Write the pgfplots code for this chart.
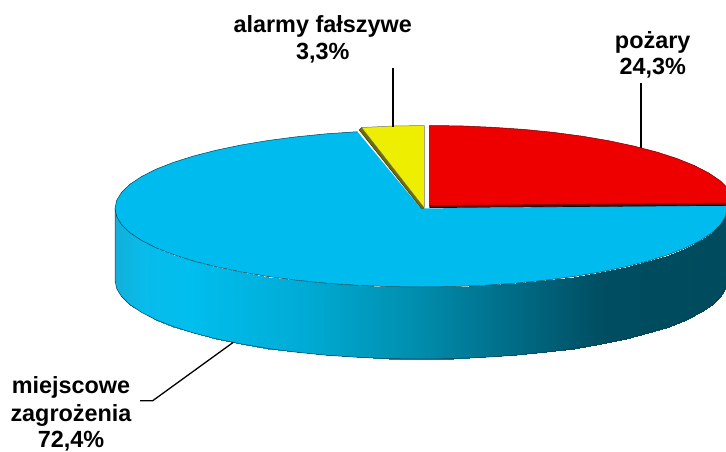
\documentclass[border=0pt]{standalone}
\usepackage{pgfplots}
\usepackage{fontspec}
\setmainfont{Liberation Sans}
\pgfplotsset{compat=1.18}
\definecolor{pieblue}{RGB}{0,188,238}
\definecolor{piered}{RGB}{238,0,0}
\definecolor{pieyellow}{RGB}{238,238,0}
\definecolor{pieolive}{RGB}{110,110,0}
\definecolor{piedarkred}{RGB}{112,0,0}
\tikzset{lab/.style={font=\fontsize{23.4}{27}\selectfont\bfseries,anchor=base,inner sep=0pt}}
\begin{document}
\begin{tikzpicture}
\useasboundingbox (0,0) rectangle (726pt,451pt);
\begin{axis}[
  at={(0,0)},anchor=south west,
  width=726pt,height=451pt,scale only axis,
  xmin=0,xmax=726,ymin=0,ymax=451,y dir=reverse,
  hide axis,clip=true,
  colormap={side}{rgb255(0pt)=(18,176,218); rgb255(30pt)=(8,188,236); rgb255(75pt)=(0,190,238);
    rgb255(185pt)=(0,172,214); rgb255(300pt)=(0,142,174); rgb255(385pt)=(0,112,140);
    rgb255(480pt)=(0,80,100); rgb255(497pt)=(0,76,96); rgb255(612pt)=(0,76,94)},
  point meta min=115,point meta max=727,
]
% side wall of the disc
\addplot[surf,shader=interp,mesh/rows=2,point meta=x] table[row sep=\\] {
x y\\
115 208.5\\116.7 216.7\\121.7 224.8\\130 232.8\\141.5 240.4\\156 247.8\\173.4 254.6\\193.6 261\\216.3 266.8\\241.1 272\\268 276.5\\296.5 280.2\\326.4 283.2\\357.4 285.3\\389 286.6\\421 287\\453 286.6\\484.6 285.3\\515.6 283.2\\545.5 280.2\\574 276.5\\600.9 272\\625.7 266.8\\648.4 261\\668.6 254.6\\686 247.8\\700.5 240.4\\712 232.8\\720.3 224.8\\725.3 216.7\\727 208.5\\
115 280.5\\116.7 288.7\\121.7 296.8\\130 304.8\\141.5 312.4\\156 319.8\\173.4 326.6\\193.6 333\\216.3 338.8\\241.1 344\\268 348.5\\296.5 352.2\\326.4 355.2\\357.4 357.3\\389 358.6\\421 359\\453 358.6\\484.6 357.3\\515.6 355.2\\545.5 352.2\\574 348.5\\600.9 344\\625.7 338.8\\648.4 333\\668.6 326.6\\686 319.8\\700.5 312.4\\712 304.8\\720.3 296.8\\725.3 288.7\\727 280.5\\
};
% outline of the wall
\addplot[draw=black!65!pieblue,line width=0.5pt] coordinates {
(115,208.5)(115,280.5)(116.7,288.7)(121.7,296.8)(130,304.8)(141.5,312.4)(156,319.8)(173.4,326.6)(193.6,333)(216.3,338.8)(241.1,344)(268,348.5)(296.5,352.2)(326.4,355.2)(357.4,357.3)(389,358.6)(421,359)(453,358.6)(484.6,357.3)(515.6,355.2)(545.5,352.2)(574,348.5)(600.9,344)(625.7,338.8)(648.4,333)(668.6,326.6)(686,319.8)(700.5,312.4)(712,304.8)(720.3,296.8)(725.3,288.7)(727,280.5)};
% blue top face
\addplot[fill=pieblue,draw=none] coordinates {
(421,208.5)(357.4,131.7)(326.4,133.8)(296.5,136.8)(268,140.5)(241.1,145)(216.3,150.2)(193.6,156)(173.4,162.4)(156,169.2)(141.5,176.6)(130,184.2)(121.7,192.2)(116.7,200.3)(115,208.5)(116.7,216.7)(121.7,224.8)(130,232.8)(141.5,240.4)(156,247.8)(173.4,254.6)(193.6,261)(216.3,266.8)(241.1,272)(268,276.5)(296.5,280.2)(326.4,283.2)(357.4,285.3)(389,286.6)(421,287)(453,286.6)(484.6,285.3)(515.6,283.2)(545.5,280.2)(574,276.5)(600.9,272)(625.7,266.8)(648.4,261)(668.6,254.6)(686,247.8)(700.5,240.4)(712,232.8)(720.3,224.8)(725.3,216.7)(727,208.5)(727,205)} --cycle;
\addplot[draw=black!65!pieblue,line width=0.5pt] coordinates {
(357.4,131.7)(326.4,133.8)(296.5,136.8)(268,140.5)(241.1,145)(216.3,150.2)(193.6,156)(173.4,162.4)(156,169.2)(141.5,176.6)(130,184.2)(121.7,192.2)(116.7,200.3)(115,208.5)(116.7,216.7)(121.7,224.8)(130,232.8)(141.5,240.4)(156,247.8)(173.4,254.6)(193.6,261)(216.3,266.8)(241.1,272)(268,276.5)(296.5,280.2)(326.4,283.2)(357.4,285.3)(389,286.6)(421,287)(453,286.6)(484.6,285.3)(515.6,283.2)(545.5,280.2)(574,276.5)(600.9,272)(625.7,266.8)(648.4,261)(668.6,254.6)(686,247.8)(700.5,240.4)(712,232.8)(720.3,224.8)(725.3,216.7)(727,208.5)};
% yellow wedge
\addplot[fill=pieolive,draw=black!60!pieolive,line width=0.4pt] coordinates {(359.2,130)(361.5,127.5)(424,207.5)(424,208.5)(421.5,208.5)} --cycle;
\addplot[fill=pieyellow,draw=black!55,line width=0.5pt] coordinates {(361.5,127.5)(393,126)(424.3,125.5)(424.3,207)(423.5,207)} --cycle;
% red wedge
\addplot[fill=piedarkred,draw=none] coordinates {(429.3,205)(735,202.5)(735,205.3)(429.3,207.6)} --cycle;
\addplot[draw=black,line width=0.7pt] coordinates {(429.3,207.6)(735,205.3)};
\addplot[fill=piered,draw=black!55!piered,line width=0.5pt] coordinates {
(429.3,205.5)(429.3,125.5)(461.3,125.9)(492.9,127.3)(523.9,129.4)(553.8,132.4)(582.3,136.2)(609.2,140.8)(634,146.1)(656.7,152)(676.9,158.5)(694.3,165.5)(708.8,173)(720.3,180.8)(728.6,188.9)(733.6,197.1)(735,203)} --cycle;
% leader lines
\addplot[draw=black,line width=1.4pt] coordinates {(393,68)(393,126.5)};
\addplot[draw=black,line width=1.4pt] coordinates {(641,83)(641,147.5)};
\addplot[draw=black,line width=1.3pt] coordinates {(140,400.7)(152.7,400.7)(233.3,342.3)};
% labels
\node[lab] at (axis cs:322.7,32) {alarmy fałszywe};
\node[lab] at (axis cs:322.7,59) {3,3\%};
\node[lab] at (axis cs:652.7,48) {pożary};
\node[lab] at (axis cs:652.7,74) {24,3\%};
\node[lab] at (axis cs:71,393) {miejscowe};
\node[lab] at (axis cs:71,421) {zagrożenia};
\node[lab] at (axis cs:71,447) {72,4\%};
\end{axis}
\end{tikzpicture}
\end{document}
